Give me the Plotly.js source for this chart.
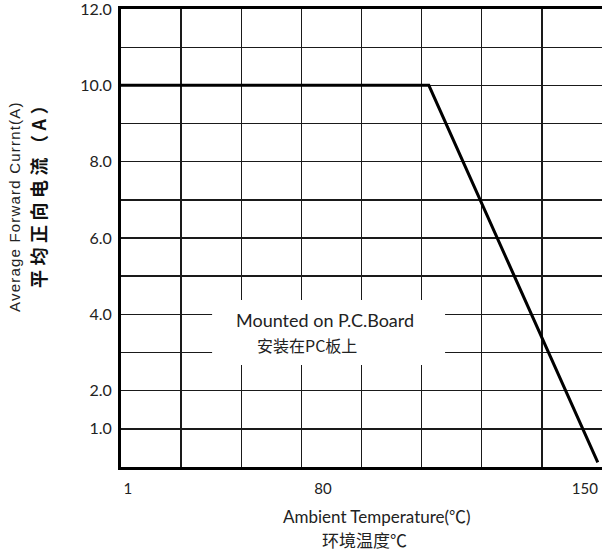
<!DOCTYPE html>
<html>
<head>
<meta charset="utf-8">
<script src="https://cdn.plot.ly/plotly-3.0.1.min.js"></script>
<style>html,body{margin:0;padding:0;background:#fff;}#chart{width:602px;height:555px;}</style>
</head>
<body>
<div id="chart"></div>
<script>
// Data (derating curve)
const temperature = [0, 102.4, 158.6];
const current = [10.0, 10.0, 0.12];

// Axis tick labels
const yTickVals = [1, 2, 4, 6, 8, 10, 12];
const yTickText = ['1.0', '2.0', '4.0', '6.0', '8.0', '10.0', '12.0'];
const xTickVals = [2.3, 67.2, 154.3];
const xTickText = ['1', '80', '150'];

const trace = {
  x: temperature,
  y: current,
  type: 'scatter',
  mode: 'lines',
  line: {color: '#000', width: 3},
  hoverinfo: 'skip',
  showlegend: false
};

const gridColor = '#1a1a1a';
const gridWidth = 1.4;

const layout = {
  width: 602,
  height: 555,
  margin: {l: 121, r: 0, t: 9, b: 88},
  paper_bgcolor: '#fff',
  plot_bgcolor: '#fff',
  font: {family: 'Lato, "Noto Sans CJK SC", sans-serif', color: '#222'},
  xaxis: {
    range: [0, 160],
    tickmode: 'array',
    tickvals: xTickVals,
    ticktext: xTickText,
    ticks: 'outside',
    ticklen: 6,
    tickcolor: 'rgba(0,0,0,0)',
    tickfont: {family: 'Lato, sans-serif', size: 15, color: '#222'},
    showgrid: false,
    zeroline: false,
    showline: true,
    linecolor: '#000',
    linewidth: 3,
    mirror: true,
    minor: {tickmode: 'linear', tick0: 0, dtick: 20, showgrid: true, gridcolor: gridColor, gridwidth: gridWidth, ticks: ''},
    fixedrange: true
  },
  yaxis: {
    range: [0, 12.001],
    tickmode: 'array',
    tickvals: yTickVals,
    ticktext: yTickText,
    ticks: 'outside',
    ticklen: 3,
    tickcolor: 'rgba(0,0,0,0)',
    ticklabeloverflow: 'allow',
    tickfont: {family: 'Lato, sans-serif', size: 16, color: '#222'},
    showgrid: true,
    gridcolor: gridColor,
    gridwidth: gridWidth,
    zeroline: false,
    showline: true,
    linecolor: '#000',
    linewidth: 3,
    mirror: false,
    minor: {tickmode: 'linear', tick0: 0, dtick: 1, showgrid: true, gridcolor: gridColor, gridwidth: gridWidth, ticks: ''},
    fixedrange: true
  },
  shapes: [
    {type: 'rect', xref: 'x', yref: 'y', x0: 30.3, x1: 107.8, y0: 2.67, y1: 4.375,
     fillcolor: '#fff', line: {width: 0}, layer: 'between'}
  ],
  annotations: [
    {text: 'Mounted on P.C.Board', xref: 'x', yref: 'y', x: 67.9, y: 3.85, showarrow: false,
     font: {family: 'Lato, sans-serif', size: 18, color: '#222'}},
    {text: '安装在PC板上', xref: 'x', yref: 'y', x: 61.9, y: 3.2, showarrow: false,
     font: {family: '"Noto Sans CJK SC", sans-serif', size: 16, color: '#222'}},
    {text: 'Ambient Temperature(℃)', xref: 'paper', yref: 'paper', x: 0.532, y: -0.109,
     xanchor: 'center', yanchor: 'middle', showarrow: false,
     font: {family: 'Lato, "Noto Sans CJK SC", sans-serif', size: 17, color: '#222'}},
    {text: '环境温度℃', xref: 'paper', yref: 'paper', x: 0.507, y: -0.159,
     xanchor: 'center', yanchor: 'middle', showarrow: false,
     font: {family: '"Noto Sans CJK SC", sans-serif', size: 17, color: '#222'}},
    {text: '<span style="letter-spacing:1.2px">Average Forward Currnt(A)</span>', xref: 'paper', yref: 'paper', x: -0.2204, y: 0.570,
     xanchor: 'center', yanchor: 'middle', textangle: -90, showarrow: false,
     font: {family: '"Liberation Sans", Arial, sans-serif', size: 15, color: '#222'}},
    {text: '<b><span style="letter-spacing:4.5px">平均正向电流（A）</span></b>', xref: 'paper', yref: 'paper', x: -0.1726, y: 0.605,
     xanchor: 'center', yanchor: 'middle', textangle: -90, showarrow: false,
     font: {family: '"Noto Sans CJK SC", sans-serif', size: 18, color: '#111'}}
  ]
};

Plotly.newPlot('chart', [trace], layout, {displayModeBar: false, staticPlot: true});
</script>
</body>
</html>
